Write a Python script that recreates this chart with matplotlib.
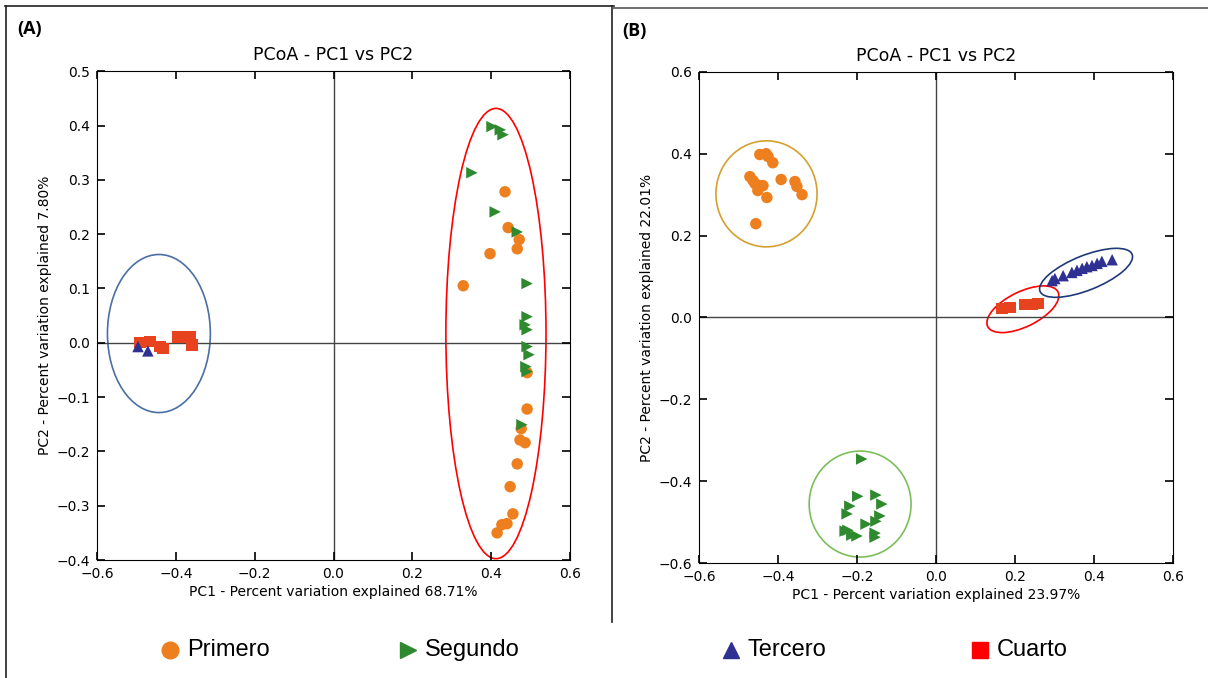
import matplotlib
matplotlib.use("Agg")
import matplotlib.pyplot as plt
from matplotlib.patches import Ellipse
from matplotlib.lines import Line2D

# colours
c_prim = '#ee7f1e'
c_seg = '#2f8a2f'
c_ter = '#2e3192'
c_cua = '#e8431f'

# ---- panel A data (PC1, PC2)
a_prim_x = [0.435, 0.443, 0.471, 0.466, 0.397, 0.329, 0.491, 0.491, 0.476, 0.473, 0.486,
            0.466, 0.448, 0.455, 0.440, 0.427, 0.415]
a_prim_y = [0.278, 0.212, 0.190, 0.173, 0.164, 0.105, -0.055, -0.122, -0.158, -0.179, -0.184,
            -0.223, -0.265, -0.315, -0.333, -0.335, -0.350]
a_seg_x = [0.402, 0.423, 0.430, 0.351, 0.410, 0.466, 0.491, 0.491, 0.486, 0.491, 0.491,
           0.496, 0.488, 0.491, 0.478]
a_seg_y = [0.398, 0.392, 0.383, 0.313, 0.241, 0.204, 0.109, 0.048, 0.033, 0.024, -0.007,
           -0.022, -0.044, -0.053, -0.151]
a_ter_x = [-0.496, -0.471]
a_ter_y = [-0.007, -0.015]
a_cua_x = [-0.491, -0.466, -0.440, -0.433, -0.394, -0.364, -0.359]
a_cua_y = [0.000, 0.002, -0.007, -0.011, 0.011, 0.011, -0.004]

# ---- panel B data
b_prim_x = [-0.446, -0.430, -0.425, -0.413, -0.471, -0.463, -0.458, -0.446, -0.438, -0.451,
            -0.428, -0.392, -0.357, -0.352, -0.339, -0.456]
b_prim_y = [0.398, 0.400, 0.393, 0.378, 0.344, 0.334, 0.327, 0.322, 0.322, 0.310,
            0.293, 0.337, 0.332, 0.320, 0.300, 0.229]
b_seg_x = [-0.188, -0.198, -0.152, -0.137, -0.218, -0.225, -0.142, -0.152, -0.177, -0.223,
           -0.230, -0.200, -0.154, -0.154, -0.213]
b_seg_y = [-0.346, -0.437, -0.434, -0.456, -0.461, -0.480, -0.485, -0.498, -0.505, -0.520,
           -0.522, -0.534, -0.527, -0.537, -0.532]
b_ter_x = [0.294, 0.301, 0.322, 0.344, 0.357, 0.370, 0.382, 0.395, 0.408, 0.420, 0.446]
b_ter_y = [0.090, 0.095, 0.102, 0.110, 0.115, 0.120, 0.124, 0.127, 0.132, 0.137, 0.141]
b_cua_x = [0.167, 0.187, 0.225, 0.243, 0.258]
b_cua_y = [0.022, 0.024, 0.032, 0.032, 0.034]

labels = ['Primero', 'Segundo', 'Tercero', 'Cuarto']

fig = plt.figure(figsize=(12.08, 6.78), dpi=100)
axA = fig.add_axes([0.0803, 0.174, 0.3916, 0.721])
axB = fig.add_axes([0.5786, 0.1696, 0.3924, 0.7244])


def style(ax, xlabel, ylabel):
    ax.axhline(0, color='#444444', lw=1, zorder=1)
    ax.axvline(0, color='#444444', lw=1, zorder=1)
    ax.tick_params(direction='in', top=True, right=True, length=6, width=1.2,
                   labelsize=10, pad=5)
    ax.set_xlim(-0.6, 0.6)
    ax.set_title('PCoA - PC1 vs PC2', fontsize=12.5, pad=8)
    ax.set_xlabel(xlabel, fontsize=10, labelpad=3)
    ax.set_ylabel(ylabel, fontsize=10, labelpad=3)


def pts(ax, x, y, m, c):
    ax.scatter(x, y, marker=m, s=68, color=c, edgecolors='none', zorder=3)


# panel A
pts(axA, a_prim_x, a_prim_y, 'o', c_prim)
pts(axA, a_seg_x, a_seg_y, '>', c_seg)
pts(axA, a_cua_x, a_cua_y, 's', c_cua)
pts(axA, a_ter_x, a_ter_y, '^', c_ter)
axA.add_patch(Ellipse((-0.443, 0.017), 0.261, 0.291, fill=False, ec='#4a6fa5', lw=1.2))
axA.add_patch(Ellipse((0.412, 0.017), 0.254, 0.829, fill=False, ec='red', lw=1.2))
axA.set_ylim(-0.4, 0.5)
axA.set_yticks([-0.4, -0.3, -0.2, -0.1, 0.0, 0.1, 0.2, 0.3, 0.4, 0.5])
style(axA, 'PC1 - Percent variation explained 68.71%',
      'PC2 - Percent variation explained 7.80%')

# panel B
pts(axB, b_prim_x, b_prim_y, 'o', c_prim)
pts(axB, b_seg_x, b_seg_y, '>', c_seg)
pts(axB, b_cua_x, b_cua_y, 's', c_cua)
pts(axB, b_ter_x, b_ter_y, '^', c_ter)
axB.add_patch(Ellipse((-0.429, 0.302), 0.256, 0.259, fill=False, ec='#d4a030', lw=1.2))
axB.add_patch(Ellipse((-0.192, -0.456), 0.258, 0.259, fill=False, ec='#7cbf5a', lw=1.2))
axB.add_patch(Ellipse((0.220, 0.020), 0.197, 0.086, angle=25, fill=False, ec='red', lw=1.2))
axB.add_patch(Ellipse((0.380, 0.109), 0.250, 0.085, angle=21, fill=False, ec='#1f3a78', lw=1.2))
axB.set_ylim(-0.6, 0.6)
style(axB, 'PC1 - Percent variation explained 23.97%',
      'PC2 - Percent variation explained 22.01%')

# panel letters
fig.text(0.014, 0.957, '(A)', fontsize=13, fontweight='bold', family='Open Sans', va='center')
fig.text(0.515, 0.955, '(B)', fontsize=13, fontweight='bold', family='Open Sans', va='center')

# panel frame lines
frame = dict(color='#222222', lw=1.2, transform=fig.transFigure)
fig.add_artist(Line2D([0.004, 0.508], [0.991, 0.991], **frame))
fig.add_artist(Line2D([0.005, 0.005], [0.0, 0.991], **frame))
fig.add_artist(Line2D([0.507, 0.507], [0.083, 0.991], **frame))
fig.add_artist(Line2D([0.507, 1.0], [0.988, 0.988], color='#555555', lw=1.2,
                      transform=fig.transFigure))

# bottom legend
leg_marker_x = [0.141, 0.338, 0.605, 0.811]
leg_markers = ['o', '>', '^', 's']
leg_colors = [c_prim, c_seg, c_ter, 'red']
for lx, m, c, lab in zip(leg_marker_x, leg_markers, leg_colors, labels):
    fig.add_artist(Line2D([lx], [0.042], marker=m, ms=12, color=c, ls='none',
                          transform=fig.transFigure))
    fig.text(lx + 0.014, 0.042, lab, fontsize=17, family='Liberation Sans', va='center')

fig.savefig('out.png', dpi=100)
